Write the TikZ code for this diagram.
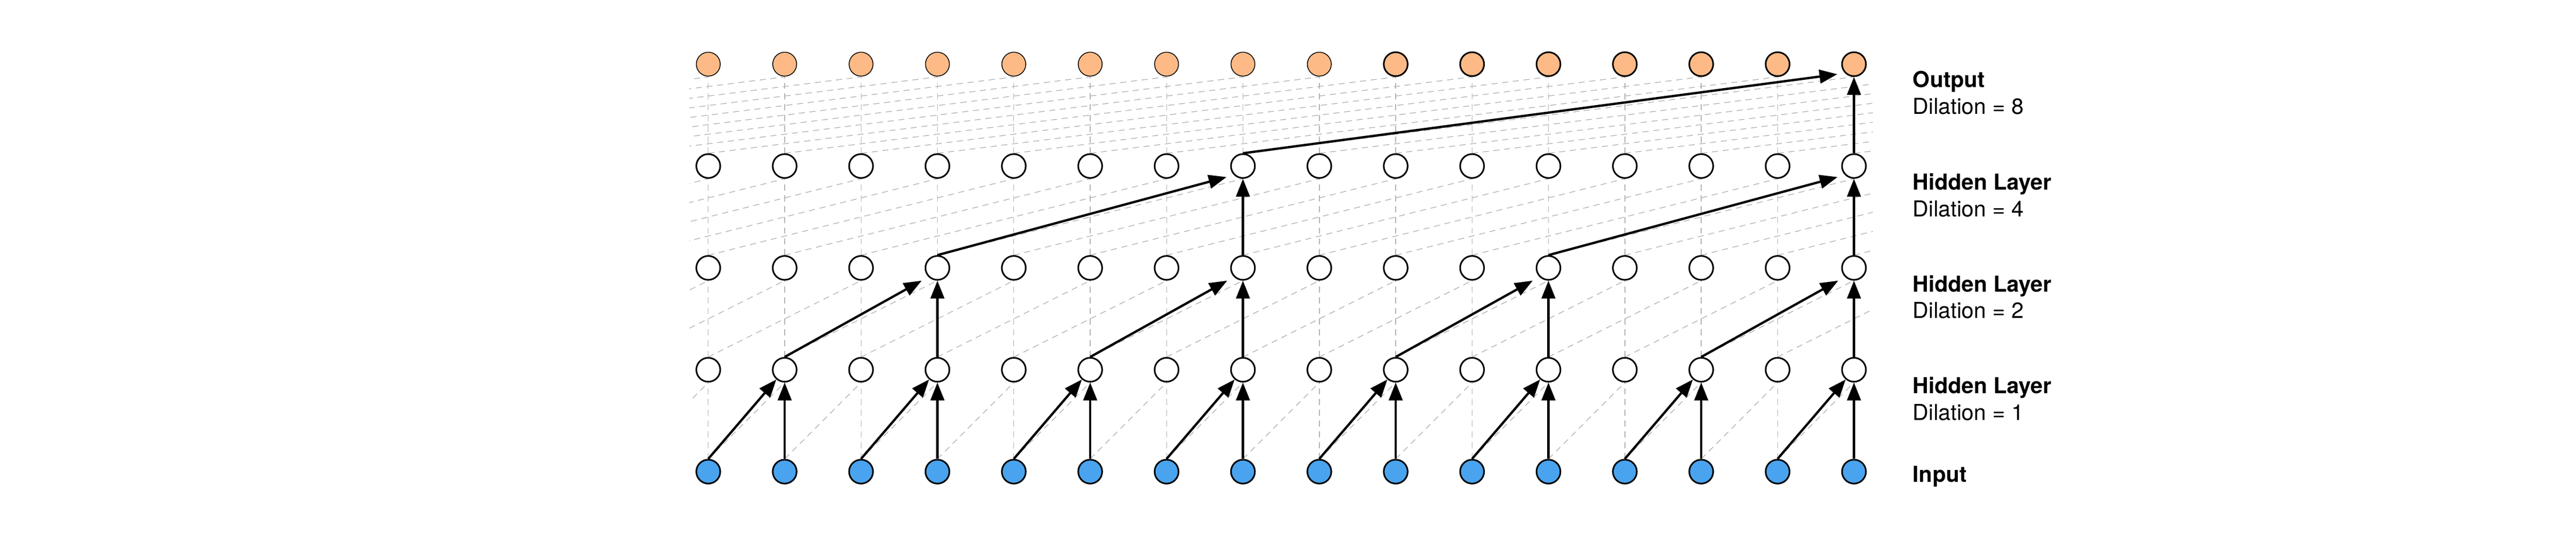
\documentclass[tikz,border=0pt]{standalone}
\usepackage{fontspec}
\setmainfont{TeX Gyre Heros}
\usetikzlibrary{arrows.meta}
\definecolor{inblue}{RGB}{74,163,238}
\definecolor{outorange}{RGB}{254,186,134}
\definecolor{faintgray}{RGB}{178,178,178}
\begin{document}
\begin{tikzpicture}[
    unit/.style={circle,draw=black,line width=0.9pt,fill=white,
      minimum size=4.7mm,inner sep=0pt},
    faint/.style={draw=faintgray,line width=0.4pt,dash pattern=on 3.4pt off 2.6pt},
    link/.style={line width=1.3pt,-{Triangle[length=10pt,width=7.6pt]}},
    lbl/.style={anchor=north west,align=left,inner sep=0pt,
      font=\fontsize{12.3}{14.9}\selectfont}]
  \useasboundingbox (0,0) rectangle (50.59,10.56);
  % grid positions, also left and right of the shown columns
  \foreach \r in {0,...,4}
    \foreach \i in {-8,...,23}
      \coordinate (c\r-\i) at ({13.91+1.5*\i},{1.3+2*\r});
  % faint connections
  \begin{scope}
    \clip (13.54,0) rectangle (36.78,10.56);
    \foreach \r/\d/\last in {0/1/14,1/2/14,2/4/15,3/8/15} {
      \pgfmathtruncatemacro\rn{\r+1}
      \pgfmathtruncatemacro\first{-\d}
      \foreach \i in {0,...,15}
        \draw[faint] ([yshift=2.5mm]c\r-\i) -- ([yshift=-2.5mm]c\rn-\i);
      \foreach \i in {\first,...,\last} {
        \pgfmathtruncatemacro\jn{\i+\d}
        \draw[faint] ([yshift=2.5mm]c\r-\i) -- ([yshift=-2.5mm]c\rn-\jn);
      }
    }
  \end{scope}
  % units
  \foreach \i in {0,...,15} {
    \node[unit,fill=inblue] (n0-\i) at (c0-\i) {};
    \foreach \r in {1,2,3}
      \node[unit] (n\r-\i) at (c\r-\i) {};
  }
  \foreach \i in {0,...,8}
    \node[unit,fill=outorange,line width=0.45pt] (n4-\i) at (c4-\i) {};
  \foreach \i in {9,...,15}
    \node[unit,fill=outorange] (n4-\i) at (c4-\i) {};
  % dilation 1
  \foreach \i in {1,3,...,15} {
    \pgfmathtruncatemacro\src{\i-1}
    \draw[link] (n0-\src.north) -- (n1-\i);
    \draw[link] (n0-\i) -- (n1-\i);
  }
  % dilation 2
  \foreach \i in {3,7,11,15} {
    \pgfmathtruncatemacro\src{\i-2}
    \draw[link,shorten >=1.5mm] (n1-\src.north) -- (n2-\i.south west);
    \draw[link] (n1-\i) -- (n2-\i);
  }
  % dilation 4
  \foreach \i in {7,15} {
    \pgfmathtruncatemacro\src{\i-4}
    \draw[link,shorten >=1.5mm] (n2-\src.north) -- (n3-\i.south west);
    \draw[link] (n2-\i) -- (n3-\i);
  }
  % dilation 8
  \draw[link,shorten >=1.5mm] (n3-7.north) -- (n4-15.south west);
  \draw[link] (n3-15) -- (n4-15);
  % layer names
  \node[lbl] (lbl-out) at ([xshift=11.5mm,yshift=-1.3mm]n4-15) {\textbf{Output}\\Dilation = 8};
  \node[lbl] (lbl-h3) at ([xshift=11.5mm,yshift=-1.4mm]n3-15) {\textbf{Hidden Layer}\\Dilation = 4};
  \node[lbl] (lbl-h2) at ([xshift=11.5mm,yshift=-1.4mm]n2-15) {\textbf{Hidden Layer}\\Dilation = 2};
  \node[lbl] (lbl-h1) at ([xshift=11.5mm,yshift=-1.4mm]n1-15) {\textbf{Hidden Layer}\\Dilation = 1};
  \node[lbl] (lbl-in) at ([xshift=11.5mm,yshift=1.2mm]n0-15) {\textbf{Input}};
\end{tikzpicture}
\end{document}
